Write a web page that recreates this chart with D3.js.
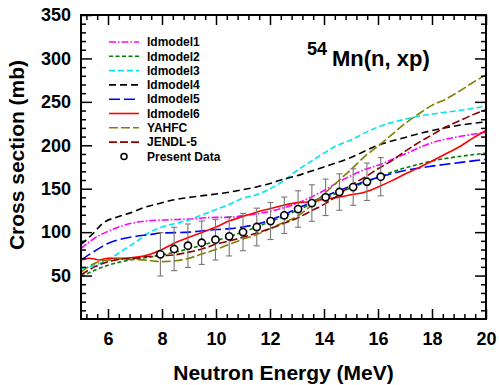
<!DOCTYPE html>
<html>
<head>
<meta charset="utf-8">
<script src="https://cdn.jsdelivr.net/npm/d3@7"></script>
<style>
    body { margin: 0; background: #fff; }
    text { font-family: "Liberation Sans", Arial, sans-serif; font-weight: bold; }
</style>
</head>
<body>
<div id="chart-area"></div>
<script>
// ---- data: [energy (MeV), cross section (mb)] ----
const ldmodel1 = [[5,81],[5.5,93],[6,101],[6.5,107],[7,111],[7.5,113],[8,114],[9,115],[10,117],[10.5,117],[11,119],[11.5,121],[12,124],[12.5,128],[13,133],[13.5,140],[14,148],[14.5,157],[15,165],[15.5,172],[16,177],[17,190],[18,203],[19,210],[20,215]];
const ldmodel2 = [[5,49],[5.5,56],[6,62],[6.5,66],[7,69],[7.5,71],[8,74],[8.5,77],[9,81],[9.5,85],[10,90],[10.5,95],[11,100],[11.5,106],[12,112],[12.5,118],[13,125],[13.5,132],[14,139],[14.5,145],[15,151],[15.5,157],[16,163],[16.5,169],[17,174],[17.5,178],[18,182],[19,187],[20,191]];
const ldmodel3 = [[5,58],[5.5,62],[6,68],[6.5,78],[7,88],[7.5,99],[8,106],[8.5,110],[9,114],[9.5,120],[10,126],[10.5,132],[11,139],[11.5,143],[12,150],[12.5,159],[13,171],[13.5,181],[14,191],[14.5,200],[15,206],[15.5,214],[16,221],[17,230],[18,236],[19,240],[20,245]];
const ldmodel4 = [[5,86],[5.4,97],[5.8,110],[6.4,118],[6.9,123],[7.4,129],[7.9,133],[8.4,137],[9,140],[9.5,142],[10.5,146],[11,149],[11.5,152],[12,156],[12.5,161],[13,165],[13.5,170],[14,175],[15,186],[16,200],[17,209],[18,217],[19,223],[20,227]];
const ldmodel5 = [[5,68],[5.5,78],[6,87],[6.5,92],[7,95],[7.5,97],[8,99],[9,100],[10,103],[10.5,104],[11,106],[11.5,109],[12,114],[12.5,120],[13,127],[13.5,134],[14,141],[14.5,147],[15,153],[15.5,158],[16,163],[17,171],[18,176],[19,180],[20,184]];
const ldmodel6 = [[5,68],[5.3,70],[5.7,68],[6,70],[6.5,70],[7,71],[7.5,74],[8,80],[8.5,88],[9,94],[9.5,100],[10,106],[10.5,113],[11,118],[11.5,123],[12,127],[12.5,131],[13,134],[13.5,135],[14,138],[14.5,140],[15,143],[15.5,146],[16,152],[16.5,159],[17,167],[17.5,174],[18,182],[18.5,190],[19,198],[19.5,208],[20,217]];
const yahfc = [[5,54],[5.5,64],[6,68],[6.5,69],[7,68.5],[7.5,67.5],[8,66],[8.5,67],[9,70],[9.5,75],[10,80],[10.5,86],[11,92],[11.5,97],[12,104],[12.5,111],[13,118],[13.5,130],[14,144],[14.5,158],[15,172],[15.5,187],[16,199],[16.5,212],[17,225],[17.5,236],[18,246],[18.5,253],[19,262],[19.5,272],[20,281]];
const jendl5 = [[5,51],[5.5,60],[6,66],[6.5,69],[7,70],[7.5,72],[8,73],[8.5,74],[9,77],[9.5,81],[10,86],[10.5,90],[11,94],[11.5,99],[12,104],[12.5,110],[13,116],[13.5,124],[14,132],[14.5,142],[15,154],[15.5,163],[16,173],[16.5,182],[17,193],[17.5,203],[18,212],[18.5,221],[19,228],[19.5,235],[20,241]];

// measured points
const dataEnergy = [7.94, 8.45, 8.96, 9.47, 9.98, 10.49, 11.0, 11.51, 12.02, 12.53, 13.04, 13.55, 14.06, 14.57, 15.08, 15.59, 16.1];
const dataXs = [74.5, 80.6, 84.4, 87.8, 91.3, 95.2, 100.1, 105.9, 112.8, 119.4, 126.6, 133.5, 140.1, 146.2, 151.9, 158, 163.8];
const dataErr = [25, 25, 25, 25, 23.4, 22.6, 21.5, 21.7, 21.3, 21, 21, 21, 21, 21, 21, 21.5, 22];

const xTicks = [6, 8, 10, 12, 14, 16, 18, 20];
const yTicks = [50, 100, 150, 200, 250, 300, 350];

const seriesNames = ["ldmodel1", "ldmodel2", "ldmodel3", "ldmodel4", "ldmodel5", "ldmodel6", "YAHFC", "JENDL-5"];
const seriesValues = [ldmodel1, ldmodel2, ldmodel3, ldmodel4, ldmodel5, ldmodel6, yahfc, jendl5];
const seriesColors = ["#ff00ff", "#008000", "#00e5ee", "#000000", "#0000ff", "#ff0000", "#808000", "#8b0000"];
const seriesDash = ["7,2,1.5,2", "4,2.5", "6,3", "7,4", "11,4", null, "9,3", "8,3"];

// ---- layout ----
const MARGIN = { LEFT: 81, TOP: 15, RIGHT: 13, BOTTOM: 66 };
const WIDTH = 499 - MARGIN.LEFT - MARGIN.RIGHT;
const HEIGHT = 385 - MARGIN.TOP - MARGIN.BOTTOM;

const svg = d3.select("#chart-area").append("svg")
    .attr("width", 499)
    .attr("height", 385);
const g = svg.append("g")
    .attr("transform", `translate(${MARGIN.LEFT}, ${MARGIN.TOP})`);

// scales
const x = d3.scaleLinear().domain([5, 20]).range([0, WIDTH]);
const y = d3.scaleLinear().domain([0, 350]).range([HEIGHT, 0]);

// minor tick positions
const xMinor = d3.range(5.2, 20, 0.4).filter(v => Math.abs(v / 2 - Math.round(v / 2)) > 0.01);
const yMinor = d3.range(10, 350, 10).filter(v => v % 50 !== 0);

g.append("clipPath").attr("id", "plot-clip")
    .append("rect").attr("width", WIDTH).attr("height", HEIGHT);

// model curves
const line = d3.line()
    .x(d => x(d[0]))
    .y(d => y(d[1]))
    .curve(d3.curveMonotoneX);

const curves = g.append("g").attr("clip-path", "url(#plot-clip)");
seriesValues.forEach((vals, i) => {
    curves.append("path")
        .attr("d", line(vals))
        .attr("fill", "none")
        .attr("stroke", seriesColors[i])
        .attr("stroke-width", 1.6)
        .attr("stroke-dasharray", seriesDash[i]);
});

// error bars + points
const pts = dataEnergy.map((e, i) => ({ e: e, v: dataXs[i], err: dataErr[i] }));
const errG = g.append("g").attr("stroke", "#777").attr("stroke-width", 1.1);
errG.selectAll(".bar").data(pts).enter().append("line")
    .attr("x1", d => x(d.e)).attr("x2", d => x(d.e))
    .attr("y1", d => y(d.v + d.err)).attr("y2", d => y(d.v - d.err));
errG.selectAll(".cap-top").data(pts).enter().append("line")
    .attr("x1", d => x(d.e) - 3).attr("x2", d => x(d.e) + 3)
    .attr("y1", d => y(d.v + d.err)).attr("y2", d => y(d.v + d.err));
errG.selectAll(".cap-bot").data(pts).enter().append("line")
    .attr("x1", d => x(d.e) - 3).attr("x2", d => x(d.e) + 3)
    .attr("y1", d => y(d.v - d.err)).attr("y2", d => y(d.v - d.err));
g.selectAll("circle.pt").data(pts).enter().append("circle")
    .attr("class", "pt")
    .attr("cx", d => x(d.e))
    .attr("cy", d => y(d.v))
    .attr("r", 3.6)
    .attr("fill", "#fff")
    .attr("stroke", "#000")
    .attr("stroke-width", 1.6);

// axes (ticks point inward on all four sides)
function styleAxis(sel) {
    sel.select(".domain").remove();
    sel.selectAll("line").attr("stroke", "#000").attr("stroke-width", 1.5);
    sel.selectAll("text").attr("fill", "#000").attr("font-size", "18px");
}
g.append("g").attr("transform", `translate(0, ${HEIGHT})`)
    .call(d3.axisBottom(x).tickValues(xTicks).tickSizeInner(-10).tickSizeOuter(0).tickPadding(13))
    .call(styleAxis);
g.append("g").attr("transform", `translate(0, ${HEIGHT})`)
    .call(d3.axisBottom(x).tickValues(xMinor).tickSizeInner(-5).tickSizeOuter(0).tickFormat(""))
    .call(styleAxis);
g.append("g")
    .call(d3.axisTop(x).tickValues(xTicks).tickSizeInner(-10).tickSizeOuter(0).tickFormat(""))
    .call(styleAxis);
g.append("g")
    .call(d3.axisTop(x).tickValues(xMinor).tickSizeInner(-5).tickSizeOuter(0).tickFormat(""))
    .call(styleAxis);
g.append("g")
    .call(d3.axisLeft(y).tickValues(yTicks).tickSizeInner(-11).tickSizeOuter(0).tickPadding(10))
    .call(styleAxis);
g.append("g")
    .call(d3.axisLeft(y).tickValues(yMinor).tickSizeInner(-5).tickSizeOuter(0).tickFormat(""))
    .call(styleAxis);
g.append("g").attr("transform", `translate(${WIDTH}, 0)`)
    .call(d3.axisRight(y).tickValues(yTicks).tickSizeInner(-11).tickSizeOuter(0).tickFormat(""))
    .call(styleAxis);
g.append("g").attr("transform", `translate(${WIDTH}, 0)`)
    .call(d3.axisRight(y).tickValues(yMinor).tickSizeInner(-5).tickSizeOuter(0).tickFormat(""))
    .call(styleAxis);

// frame
g.append("rect")
    .attr("width", WIDTH)
    .attr("height", HEIGHT)
    .attr("fill", "none")
    .attr("stroke", "#000")
    .attr("stroke-width", 2);

// axis titles
svg.append("text")
    .attr("x", MARGIN.LEFT + WIDTH / 2)
    .attr("y", 380)
    .attr("text-anchor", "middle")
    .attr("font-size", "21px")
    .text("Neutron Energy (MeV)");
svg.append("text")
    .attr("transform", "rotate(-90)")
    .attr("x", -155)
    .attr("y", 24)
    .attr("text-anchor", "middle")
    .attr("font-size", "21px")
    .text("Cross section (mb)");

// reaction label
svg.append("text")
    .attr("x", 307).attr("y", 55)
    .attr("font-size", "18px")
    .text("54");
svg.append("text")
    .attr("x", 332).attr("y", 66)
    .attr("font-size", "22px")
    .text("Mn(n, xp)");

// legend
const legend = svg.append("g").attr("transform", "translate(109, 42)");
const ROW = 14.3;
seriesNames.forEach((name, i) => {
    legend.append("line")
        .attr("x1", 0).attr("x2", 30)
        .attr("y1", i * ROW).attr("y2", i * ROW)
        .attr("stroke", seriesColors[i])
        .attr("stroke-width", 1.6)
        .attr("stroke-dasharray", seriesDash[i]);
    legend.append("text")
        .attr("x", 38).attr("y", i * ROW)
        .attr("dy", "0.35em")
        .attr("font-size", "12px")
        .text(name);
});
legend.append("circle")
    .attr("cx", 15).attr("cy", 8 * ROW)
    .attr("r", 3)
    .attr("fill", "#fff")
    .attr("stroke", "#000")
    .attr("stroke-width", 1.5);
legend.append("text")
    .attr("x", 38).attr("y", 8 * ROW)
    .attr("dy", "0.35em")
    .attr("font-size", "12px")
    .text("Present Data");
</script>
</body>
</html>
